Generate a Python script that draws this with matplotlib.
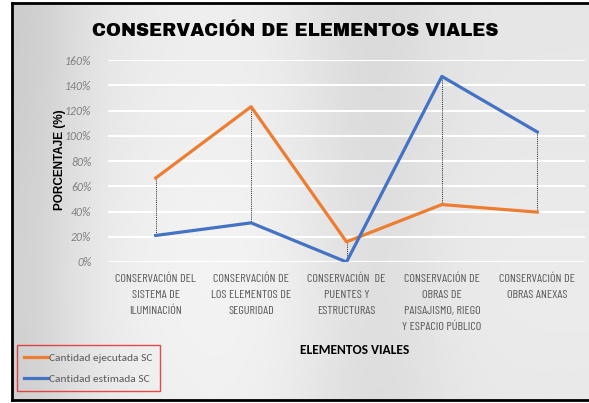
import matplotlib.pyplot as plt
import numpy as np

categories = ['CONSERVACIÓN DEL\nSISTEMA DE\nILUMINACIÓN',
              'CONSERVACIÓN DE\nLOS ELEMENTOS DE\nSEGURIDAD',
              'CONSERVACIÓN  DE\nPUENTES Y\nESTRUCTURAS',
              'CONSERVACIÓN DE\nOBRAS DE\nPAISAJISMO, RIEGO\nY ESPACIO PÚBLICO',
              'CONSERVACIÓN DE\nOBRAS ANEXAS']
ejecutada = [66.5, 123, 16, 45.5, 39.5]
estimada = [21, 31, 0, 147, 103]
yticks = [0, 20, 40, 60, 80, 100, 120, 140, 160]

W, H = 589, 403
fig = plt.figure(figsize=(W / 100, H / 100), dpi=100)
fig.patch.set_facecolor('white')

# gray gradient background inside the black frame
bg = fig.add_axes([12 / W, 3 / H, (W - 12) / W + 0.01, 397 / H])
xs = np.linspace(0, 1, 300)
prof = 0.90 - 0.10 * np.exp(-((xs - 0.0) / 0.12) ** 2) - 0.05 * np.exp(-((xs - 0.62) / 0.12) ** 2) \
    + 0.03 * np.exp(-((xs - 0.35) / 0.2) ** 2)
ys = np.linspace(0, 1, 200)
vert = 0.02 * np.exp(-((ys - 0.7) / 0.4) ** 2)
grad = np.clip(prof[None, :] + vert[:, None], 0, 1)
bg.imshow(grad, cmap='gray', vmin=0, vmax=1, aspect='auto', extent=[0, 1, 0, 1])
bg.set_xticks([])
bg.set_yticks([])
for side in ['left', 'top', 'bottom']:
    bg.spines[side].set_linewidth(2)
    bg.spines[side].set_color('black')
bg.spines['right'].set_visible(False)

ax = fig.add_axes([108 / W, (H - 262) / H, 477 / W, 202 / H])
ax.patch.set_alpha(0)
x = np.arange(len(categories))
ax.set_xlim(-0.5, len(categories) - 0.5)
ax.set_ylim(0, 160)

for v in yticks:
    ax.axhline(v, color='white', lw=1.5, zorder=1)

# dotted drop lines between the two series
for i in x:
    ax.plot([i, i], [ejecutada[i], estimada[i]], color='#222222', lw=0.7,
            linestyle=(0, (1, 1.2)), zorder=2)

ax.plot(x, ejecutada, color='#ED7D31', lw=2.3, zorder=3, label='Cantidad ejecutada SC')
ax.plot(x, estimada, color='#4472C4', lw=2.3, zorder=3, label='Cantidad estimada SC')

ax.set_yticks(yticks)
ax.set_yticklabels([f'{v}%' for v in yticks], fontsize=8.5, style='italic',
                   color='#808080', family='Carlito')
ax.set_xticks(x)
ax.set_xticklabels(categories, fontsize=8.8, color='#595959',
                   family='Barlow Condensed', linespacing=1.75)
ax.tick_params(length=0, pad=12)
ax.tick_params(axis='x', pad=8)
for s in ax.spines.values():
    s.set_visible(False)

fig.text(295 / W, 1 - 32 / H, 'CONSERVACIÓN DE ELEMENTOS VIALES', ha='center', va='center',
         fontsize=13, family='Archivo Black', color='black')
fig.text(60 / W, 1 - 160 / H, 'PORCENTAJE (%)', rotation=90, ha='center', va='center',
         fontsize=8.5, fontweight='bold', family='Liberation Sans', color='black')
fig.text(355 / W, 1 - 350 / H, 'ELEMENTOS VIALES', ha='center', va='center',
         fontsize=9.7, fontweight='bold', family='Carlito', color='black')

leg = fig.legend(loc='lower left', bbox_to_anchor=(17 / W, 12 / H), frameon=True,
                 fancybox=False, edgecolor='#e02020', facecolor='none',
                 prop={'family': 'Carlito', 'size': 8.2},
                 handlelength=2.1, handletextpad=0.1, labelspacing=0.95,
                 borderpad=0.65, borderaxespad=0, labelcolor='#595959')
leg.get_frame().set_linewidth(1.0)

fig.savefig('out.png', dpi=100)
